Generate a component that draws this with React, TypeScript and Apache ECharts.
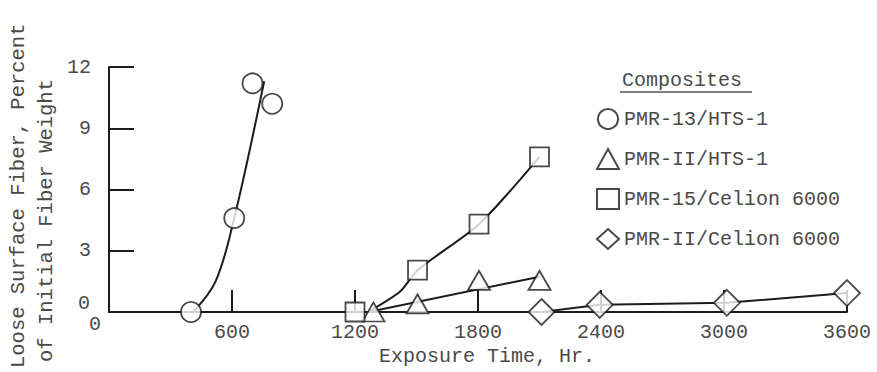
import React, { useEffect, useRef } from "react";
import * as echarts from "echarts";

// ---- data ----
const xTicks = [0, 600, 1200, 1800, 2400, 3000, 3600];
const yTicks = [0, 3, 6, 9, 12];

const seriesNames = ["PMR-13/HTS-1", "PMR-II/HTS-1", "PMR-15/Celion 6000", "PMR-II/Celion 6000"];

// PMR-13/HTS-1 (circles)
const pmr13X = [400, 611, 700, 796];
const pmr13Y = [0, 4.6, 11.2, 10.2];
const pmr13CurveX = [410, 520, 611, 757];
const pmr13CurveY = [0, 1.5, 4.6, 11.3];

// PMR-II/HTS-1 (triangles)
const pmr2htsX = [1290, 1505, 1805, 2100];
const pmr2htsY = [0, 0.4, 1.55, 1.55];
const pmr2htsCurveX = [1265, 2100];
const pmr2htsCurveY = [0, 1.73];

// PMR-15/Celion 6000 (squares)
const pmr15X = [1200, 1505, 1805, 2100];
const pmr15Y = [0, 2.05, 4.3, 7.6];
const pmr15CurveX = [1265, 1420, 1505, 1805, 2100];
const pmr15CurveY = [0, 1.0, 2.05, 4.3, 7.6];

// PMR-II/Celion 6000 (diamonds)
const pmr2celX = [2110, 2394, 3014, 3600];
const pmr2celY = [0, 0.35, 0.45, 0.93];

const FONT = "'Liberation Mono', 'DejaVu Sans Mono', monospace";
const TXT = "#4a4a4a";
const INK = "#1c1c1c";

const zip = (xs: number[], ys: number[]) => xs.map((x, i) => [x, ys[i]]);

export default function App() {
  const ref = useRef<HTMLDivElement>(null);
  useEffect(() => {
    if (!ref.current) return;
    const chart = echarts.init(ref.current, undefined, { renderer: "svg" });
    const markerStyle = { color: "#fff", borderColor: INK, borderWidth: 1.8 };
    const lineStyle = { color: INK, width: 2 };
    const option: any = {
      animation: false,
      backgroundColor: "#fff",
      grid: { left: 109, right: 30, top: 67, bottom: 60 },
      xAxis: {
        type: "value",
        min: xTicks[0],
        max: xTicks[xTicks.length - 1],
        interval: 600,
        splitLine: { show: false },
        axisLine: { lineStyle: { color: INK, width: 2 } },
        axisTick: { inside: true, length: 22, lineStyle: { color: INK, width: 2 } },
        axisLabel: {
          fontFamily: FONT,
          fontSize: 20,
          color: TXT,
          margin: 10,
          formatter: (v: number) => (v === 0 ? "" : String(v)),
        },
        name: "Exposure Time, Hr.",
        nameLocation: "middle",
        nameGap: 33,
        nameTextStyle: { fontFamily: FONT, fontSize: 20, color: TXT, padding: [0, 0, 0, 18] },
      },
      yAxis: {
        type: "value",
        min: yTicks[0],
        max: yTicks[yTicks.length - 1],
        interval: 3,
        splitLine: { show: false },
        axisLine: { lineStyle: { color: INK, width: 2 } },
        axisTick: { inside: true, length: 25, lineStyle: { color: INK, width: 2 } },
        axisLabel: {
          fontFamily: FONT,
          fontSize: 20,
          color: TXT,
          margin: 18,
          formatter: (v: number) => (v === 0 ? "" : String(v)),
        },
      },
      legend: {
        data: seriesNames,
        orient: "vertical",
        left: 591,
        top: 103,
        itemWidth: 22,
        itemHeight: 20,
        itemGap: 18,
        textStyle: { fontFamily: FONT, fontSize: 20, color: TXT },
      },
      graphic: [
        {
          type: "text",
          x: 18,
          y: 368,
          rotation: Math.PI / 2,
          style: {
            text: "Loose Surface Fiber, Percent",
            fontFamily: FONT,
            fontSize: 20.5,
            fill: TXT,
            textAlign: "left",
            textVerticalAlign: "middle",
          },
        },
        {
          type: "text",
          x: 46,
          y: 362,
          rotation: Math.PI / 2,
          style: {
            text: "of Initial Fiber Weight",
            fontFamily: FONT,
            fontSize: 20.5,
            fill: TXT,
            textAlign: "left",
            textVerticalAlign: "middle",
          },
        },
        {
          type: "text",
          x: 90,
          y: 303,
          style: { text: "0", fontFamily: FONT, fontSize: 20, fill: TXT, textAlign: "right", textVerticalAlign: "middle" },
        },
        {
          type: "text",
          x: 95,
          y: 324,
          style: { text: "0", fontFamily: FONT, fontSize: 20, fill: TXT, textAlign: "center", textVerticalAlign: "middle" },
        },
        {
          type: "text",
          x: 622,
          y: 80,
          style: { text: "Composites", fontFamily: FONT, fontSize: 20, fill: TXT, textAlign: "left", textVerticalAlign: "middle" },
        },
        {
          type: "line",
          shape: { x1: 620, y1: 92, x2: 752, y2: 92 },
          style: { stroke: "#555", lineWidth: 1.5 },
        },
      ],
      series: [
        { type: "line", name: "c13", data: zip(pmr13CurveX, pmr13CurveY), smooth: 0.35, symbol: "none", lineStyle, z: 2 },
        { type: "line", name: "c2h", data: zip(pmr2htsCurveX, pmr2htsCurveY), symbol: "none", lineStyle, z: 2 },
        { type: "line", name: "c15", data: zip(pmr15CurveX, pmr15CurveY), smooth: 0.25, symbol: "none", lineStyle, z: 2 },
        { type: "line", name: "c2c", data: zip(pmr2celX, pmr2celY), symbol: "none", lineStyle, z: 2 },
        { type: "scatter", name: seriesNames[0], data: zip(pmr13X, pmr13Y), symbol: "circle", symbolSize: 20, itemStyle: markerStyle, z: 5 },
        { type: "scatter", name: seriesNames[1], data: zip(pmr2htsX, pmr2htsY), symbol: "triangle", symbolSize: [22, 19], itemStyle: markerStyle, z: 5 },
        { type: "scatter", name: seriesNames[2], data: zip(pmr15X, pmr15Y), symbol: "rect", symbolSize: 19, itemStyle: markerStyle, z: 5 },
        { type: "scatter", name: seriesNames[3], data: zip(pmr2celX, pmr2celY), symbol: "diamond", symbolSize: 26, itemStyle: markerStyle, z: 5 },
      ],
    };
    chart.setOption(option);
    return () => chart.dispose();
  }, []);
  return <div ref={ref} style={{ width: 877, height: 372, position: "absolute", left: 0, top: 0 }} />;
}
